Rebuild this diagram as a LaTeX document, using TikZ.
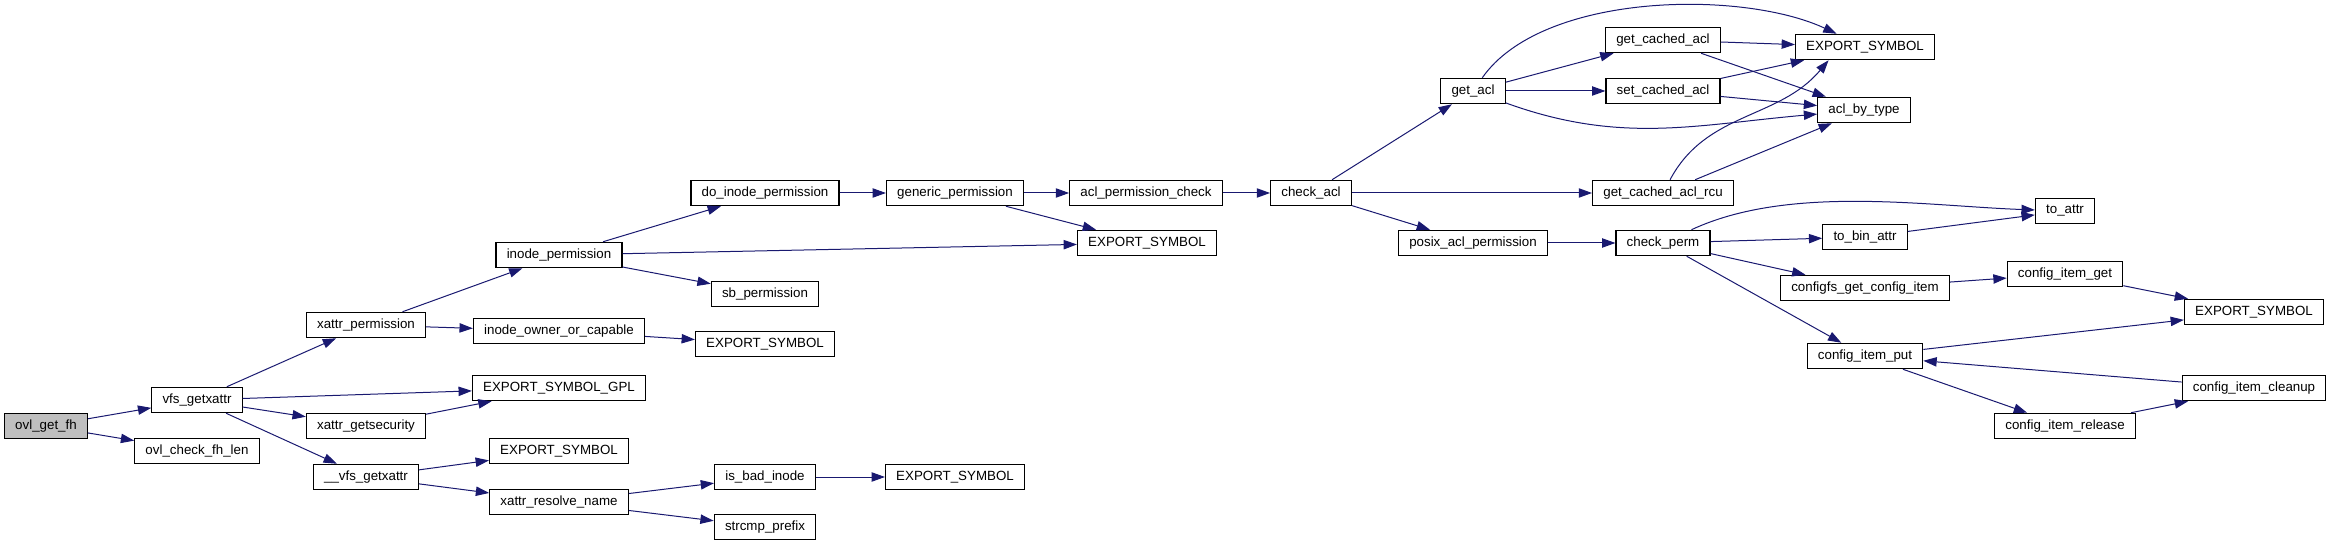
\documentclass[tikz,border=0pt]{standalone}
\usepackage{fontspec}
\setmainfont{Liberation Sans}
\usepackage{xcolor}
\usepackage{tikz}
\usetikzlibrary{arrows.meta}
\definecolor{edgeblue}{HTML}{191970}
\tikzset{
  func/.style={rectangle, draw=black, fill=white, line width=0.9pt, minimum height=19pt, inner xsep=8pt, inner ysep=0pt, font=\fontsize{10}{12}\selectfont},
  root/.style={func, fill=black!25},
  arrow/.style={-{Triangle[length=10pt,width=7pt]}, draw=edgeblue, line width=0.75pt},
}

\begin{document}
\begin{tikzpicture}[x=0.75pt,y=0.75pt]
\useasboundingbox (0,0) rectangle (2329,546);
\node[root] (ogf) at (46,120) {ovl\_get\_fh};
\node[func] (vfs) at (197,146) {vfs\_getxattr};
\node[func] (ocfl) at (197,95) {ovl\_check\_fh\_len};
\node[func] (xp) at (366,221) {xattr\_permission};
\node[func] (xgs) at (366,120) {xattr\_getsecurity};
\node[func] (gx) at (366,69) {\_\_vfs\_getxattr};
\node[func] (ip) at (559,291) {inode\_permission};
\node[func] (ioc) at (559,215) {inode\_owner\_or\_capable};
\node[func] (esgpl) at (559,158) {EXPORT\_SYMBOL\_GPL};
\node[func] (esa) at (559,95) {EXPORT\_SYMBOL};
\node[func] (xrn) at (559,44) {xattr\_resolve\_name};
\node[func] (dip) at (765,353) {do\_inode\_permission};
\node[func] (sbp) at (765,252) {sb\_permission};
\node[func] (esb) at (765,202) {EXPORT\_SYMBOL};
\node[func] (bad) at (765,69) {is\_bad\_inode};
\node[func] (scp) at (765,19) {strcmp\_prefix};
\node[func] (gp) at (955,353) {generic\_permission};
\node[func] (esc) at (955,69) {EXPORT\_SYMBOL};
\node[func] (apc) at (1146,353) {acl\_permission\_check};
\node[func] (esd) at (1147,303) {EXPORT\_SYMBOL};
\node[func] (ca) at (1311,353) {check\_acl};
\node[func] (ga) at (1473,455) {get\_acl};
\node[func] (pap) at (1473,303) {posix\_acl\_permission};
\node[func] (gca) at (1663,506) {get\_cached\_acl};
\node[func] (sca) at (1663,455) {set\_cached\_acl};
\node[func] (gcar) at (1663,353) {get\_cached\_acl\_rcu};
\node[func] (cp) at (1663,303) {check\_perm};
\node[func] (ese) at (1865,499) {EXPORT\_SYMBOL};
\node[func] (abt) at (1864,436) {acl\_by\_type};
\node[func] (tba) at (1865,309) {to\_bin\_attr};
\node[func] (cgci) at (1865,258) {configfs\_get\_config\_item};
\node[func] (cip) at (1865,190) {config\_item\_put};
\node[func] (ta) at (2065,335) {to\_attr};
\node[func] (cig) at (2065,272) {config\_item\_get};
\node[func] (cir) at (2065,120) {config\_item\_release};
\node[func] (esf) at (2254,234) {EXPORT\_SYMBOL};
\node[func] (cic) at (2254,158) {config\_item\_cleanup};
\draw[arrow](ogf)--(vfs); \draw[arrow](ogf)--(ocfl);
\draw[arrow](vfs)--(xp); \draw[arrow](vfs)--(esgpl);
\draw[arrow](vfs)--(xgs); \draw[arrow](vfs)--(gx);
\draw[arrow](xp)--(ip); \draw[arrow](xp)--(ioc);
\draw[arrow](ioc)--(esb); \draw[arrow](xgs)--(esgpl);
\draw[arrow](ip)--(dip); \draw[arrow](ip)--(esd); \draw[arrow](ip)--(sbp);
\draw[arrow](dip)--(gp); \draw[arrow](gp)--(apc); \draw[arrow](gp)--(esd);
\draw[arrow](apc)--(ca);
\draw[arrow](ca)--(ga); \draw[arrow](ca)--(gcar); \draw[arrow](ca)--(pap);
\draw[arrow](ga) to[out=55,in=155,looseness=0.75] (ese);
\draw[arrow](ga)--(gca); \draw[arrow](ga)--(sca);
\draw[arrow](ga) to[out=-20,in=185] (abt);
\draw[arrow](gca)--(ese); \draw[arrow](gca)--(abt);
\draw[arrow](sca)--(ese); \draw[arrow](sca)--(abt);
\draw[arrow](gcar) to[out=62,in=230] (ese.200);
\draw[arrow](gcar)--(abt);
\draw[arrow](pap)--(cp);
\draw[arrow](cp) to[out=25,in=178,looseness=0.8] (ta);
\draw[arrow](cp)--(tba); \draw[arrow](cp)--(cgci); \draw[arrow](cp)--(cip);
\draw[arrow](tba)--(ta); \draw[arrow](cgci)--(cig); \draw[arrow](cig)--(esf);
\draw[arrow](cip)--(esf); \draw[arrow](cip)--(cir);
\draw[arrow](cir)--(cic); \draw[arrow](cic)--(cip);
\draw[arrow](gx)--(esa); \draw[arrow](gx)--(xrn);
\draw[arrow](xrn)--(bad); \draw[arrow](xrn)--(scp);
\draw[arrow](bad)--(esc);
\end{tikzpicture}
\end{document}
